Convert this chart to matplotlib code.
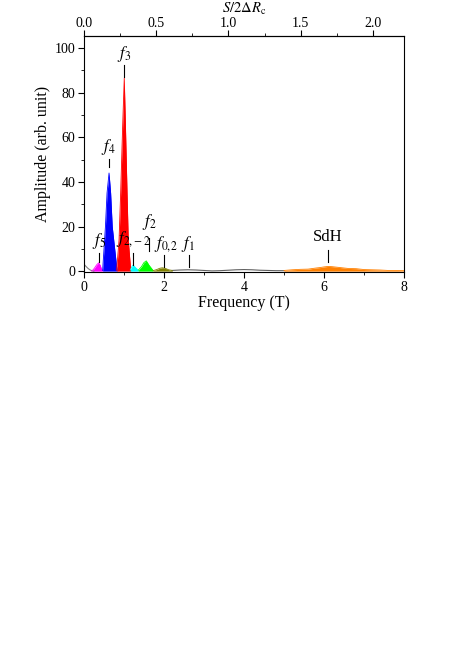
import numpy as np
import matplotlib
matplotlib.use("Agg")
import matplotlib.pyplot as plt
from matplotlib.ticker import MultipleLocator, FormatStrFormatter

plt.rcParams["font.family"] = ["Liberation Serif", "DejaVu Serif"]
plt.rcParams["mathtext.fontset"] = "stix"

# background (gray) parts of the FFT spectrum
bg_low_f = [0.0, 0.05, 0.1, 0.15, 0.2, 0.25]
bg_low_a = [3.2, 2.2, 1.3, 0.6, 0.2, 0.0]
bg_mid_f = [2.2, 2.4, 2.6, 2.8, 3.0, 3.2, 3.4, 3.6, 3.8, 4.0, 4.2, 4.4, 4.6, 4.8, 5.0]
bg_mid_a = [0.3, 0.5, 0.6, 0.5, 0.3, 0.1, 0.2, 0.4, 0.6, 0.7, 0.6, 0.4, 0.3, 0.2, 0.2]

# coloured peaks
f5_f = [0.20, 0.26, 0.32, 0.37, 0.41, 0.44, 0.47]
f5_a = [0.0, 1.2, 2.8, 3.7, 2.6, 1.0, 0.3]
f4_f = [0.47, 0.54, 0.58, 0.63, 0.67, 0.71, 0.83]
f4_a = [0.3, 20.0, 35.0, 44.0, 35.0, 20.0, 0.3]
f3_f = [0.82, 0.88, 0.92, 0.97, 1.01, 1.04, 1.08, 1.11, 1.17]
f3_a = [0.3, 14.0, 35.0, 65.0, 86.5, 65.0, 35.0, 14.0, 0.5]
f22_f = [1.16, 1.20, 1.23, 1.29, 1.36]
f22_a = [0.5, 2.0, 2.7, 1.6, 0.4]
f2_f = [1.36, 1.44, 1.50, 1.56, 1.63, 1.73]
f2_a = [0.4, 2.0, 3.8, 4.6, 2.6, 0.3]
f02_f = [1.73, 1.82, 1.90, 1.96, 2.04, 2.12, 2.21]
f02_a = [0.2, 0.7, 1.3, 1.5, 1.2, 0.6, 0.3]
sdh_f = [5.0, 5.2, 5.4, 5.6, 5.8, 5.9, 6.0, 6.1, 6.2, 6.3, 6.4, 6.5, 6.6, 6.8, 7.0, 7.2, 7.4, 7.6, 7.8, 8.0]
sdh_a = [0.3, 0.6, 0.8, 0.9, 1.4, 1.6, 1.9, 2.1, 2.0, 1.8, 1.6, 1.4, 1.2, 1.1, 0.7, 0.6, 0.5, 0.3, 0.3, 0.2]

peaks = [
    (f5_f, f5_a, "#ff00ff"),
    (f4_f, f4_a, "#0000ff"),
    (f3_f, f3_a, "#ff0000"),
    (f22_f, f22_a, "#00ffff"),
    (f2_f, f2_a, "#00ff00"),
    (f02_f, f02_a, "#808000"),
    (sdh_f, sdh_a, "#ff8000"),
]

# peak labels: text, label x, label bottom, marker x, marker bottom/top
lab_text = ["$f_5$", "$f_4$", "$f_3$", r"$f_{2,\!-2}$", "$f_2$", r"$f_{0,\!2}$", "$f_1$", "SdH"]
lab_x = [0.37, 0.62, 1.0, 1.25, 1.64, 2.05, 2.6, 6.1]
lab_y = [9.0, 51.0, 92.8, 9.8, 17.5, 7.8, 7.8, 11.5]
line_x = [0.39, 0.62, 1.0, 1.23, 1.63, 2.0, 2.63, 6.1]
line_lo = [4.2, 46.8, 87.1, 2.7, 9.1, 2.0, 2.0, 4.2]
line_hi = [8.2, 50.5, 92.4, 8.0, 15.0, 7.2, 7.2, 9.4]

fig = plt.figure(figsize=(4.63, 6.64), dpi=100)
ax = fig.add_axes([0.181, 0.590, 0.692, 0.356])

ax.plot(bg_low_f, bg_low_a, color="#808080", lw=0.8)
ax.plot(bg_mid_f, bg_mid_a, color="#606060", lw=0.8)
for fx, ay, col in peaks:
    ax.fill_between(fx, 0, ay, color=col, lw=0)
    ax.plot(fx, ay, color=col, lw=0.6)

for t, x, y, lx, lo, hi in zip(lab_text, lab_x, lab_y, line_x, line_lo, line_hi):
    ax.plot([lx, lx], [lo, hi], color="black", lw=0.8)
    ax.text(x, y, t, ha="center", va="bottom", fontsize=12)

ax.set_xlim(0, 8)
ax.set_ylim(-0.5, 105.5)
ax.xaxis.set_major_locator(MultipleLocator(2))
ax.xaxis.set_minor_locator(MultipleLocator(1))
ax.yaxis.set_major_locator(MultipleLocator(20))
ax.yaxis.set_minor_locator(MultipleLocator(10))
ax.tick_params(which="both", direction="out", labelsize=10, top=False, right=False, pad=2)
ax.tick_params(which="major", length=4)
ax.tick_params(which="minor", length=2)
ax.set_xlabel("Frequency (T)", fontsize=11.5, labelpad=1)
ax.set_ylabel("Amplitude (arb. unit)", fontsize=11.5, labelpad=3)

k = 0.277
sec = ax.secondary_xaxis("top", functions=(lambda f: f * k, lambda s: s / k))
sec.xaxis.set_major_locator(MultipleLocator(0.5))
sec.xaxis.set_minor_locator(MultipleLocator(0.25))
sec.xaxis.set_major_formatter(FormatStrFormatter("%.1f"))
sec.tick_params(which="both", direction="out", labelsize=10, pad=0.5)
sec.tick_params(which="major", length=4)
sec.tick_params(which="minor", length=2)
sec.set_xlabel(r"$S/2\mathit{\Delta} R_{\rm c}$", fontsize=10.5, labelpad=3)

fig.savefig("out.png", dpi=100)
